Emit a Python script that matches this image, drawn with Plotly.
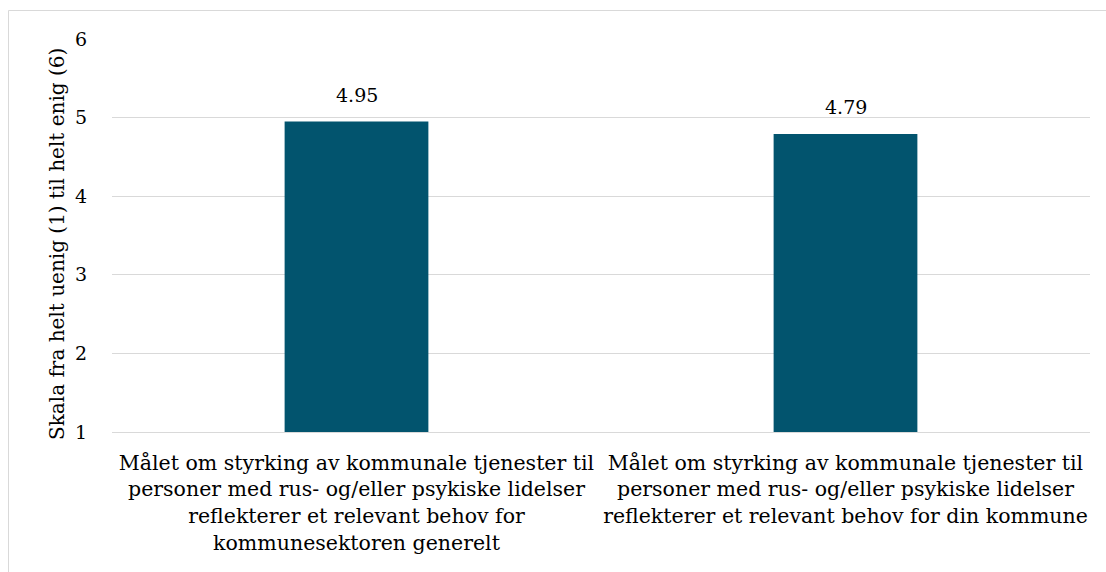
import plotly.graph_objects as go

# Survey statements (x categories) and mean agreement scores
categories = [
    "Målet om styrking av kommunale tjenester til<br>personer med rus- og/eller psykiske lidelser<br>reflekterer et relevant behov for<br>kommunesektoren generelt",
    "Målet om styrking av kommunale tjenester til<br>personer med rus- og/eller psykiske lidelser<br>reflekterer et relevant behov for din kommune",
]
scores = [4.95, 4.79]
y_ticks = [1, 2, 3, 4, 5, 6]
y_title = "Skala fra helt uenig (1) til helt enig (6)"

FONT = "DejaVu Serif"
W, H = 1106, 572
ML, MR, MT, MB = 112, 16, 39, 140
pw, ph = W - ML - MR, H - MT - MB

fig = go.Figure(
    go.Bar(
        x=categories,
        y=scores,
        base=0,
        marker=dict(color="#02546E", line=dict(width=0)),
        width=0.294,
        hoverinfo="skip",
    )
)

# value labels above each bar
for cat, v in zip(categories, scores):
    fig.add_annotation(
        x=cat, y=v, text=f"{v:.2f}", showarrow=False,
        yanchor="bottom", yshift=14,
        font=dict(family=FONT, size=19, color="#000000"),
    )

# vertical axis title
fig.add_annotation(
    xref="paper", yref="paper",
    x=(57 - ML) / pw, y=(H - MB - 244) / ph,
    xanchor="center", yanchor="middle",
    text=y_title, textangle=-90, showarrow=False,
    font=dict(family=FONT, size=20, color="#000000"),
)

fig.update_layout(
    width=W,
    height=H,
    margin=dict(l=ML, r=MR, t=MT, b=MB),
    paper_bgcolor="white",
    plot_bgcolor="white",
    showlegend=False,
    font=dict(family=FONT, size=19, color="#000000"),
    xaxis=dict(
        showgrid=False,
        showline=True,
        linecolor="#D9D9D9",
        linewidth=1,
        ticks="outside",
        ticklen=12,
        tickcolor="rgba(0,0,0,0)",
        tickfont=dict(family=FONT, size=20.5, color="#000000"),
    ),
    yaxis=dict(
        range=[1, 6],
        tickvals=y_ticks,
        showgrid=True,
        gridcolor="#D9D9D9",
        gridwidth=1,
        zeroline=False,
        showline=False,
        ticks="outside",
        ticklen=20,
        tickcolor="rgba(0,0,0,0)",
        tickfont=dict(family=FONT, size=19, color="#000000"),
    ),
    shapes=[
        # outer chart border
        dict(
            type="rect",
            xref="paper",
            yref="paper",
            x0=(8.5 - ML) / pw,
            x1=(W + 10 - ML) / pw,
            y0=-(H + 10 - MT - ph) / ph,
            y1=1 + (MT - 10.5) / ph,
            line=dict(color="#D9D9D9", width=1),
            fillcolor="rgba(0,0,0,0)",
            layer="below",
        )
    ],
)

fig.write_html("out.html")
